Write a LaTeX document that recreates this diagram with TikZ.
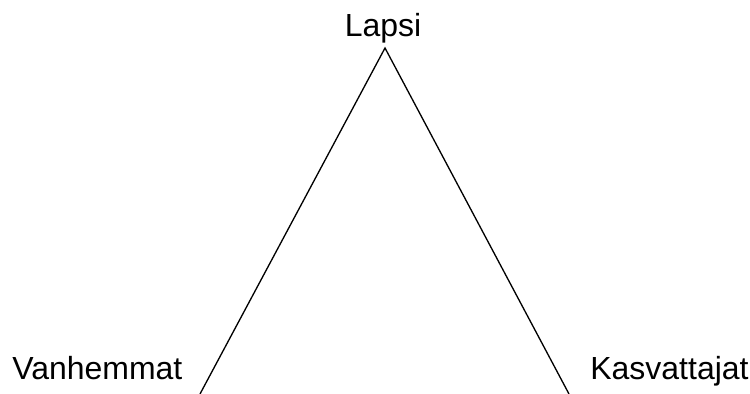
\documentclass[tikz,border=0pt]{standalone}
\usepackage{fontspec}
\setmainfont{Liberation Sans}
\usepackage{tikz}
\usetikzlibrary{positioning, calc}
\tikzstyle{rolelabel} = [inner sep=0pt, font=\fontsize{18.2pt}{21pt}\selectfont, text=black]
\tikzstyle{edge} = [line width=0.75pt, black]

\begin{document}
\begin{tikzpicture}[x=0.02cm, y=-0.02cm]
    \useasboundingbox (0,0) rectangle (750,394);
    % Labels
    \node[rolelabel, anchor=base] (child) at (383,37) {Lapsi};
    \node[rolelabel, anchor=base west] (parents) at (12,380) {Vanhemmat};
    \node[rolelabel, anchor=base west] (educators) at (590,380) {Kasvattajat};

    % Corners of the triangle
    \coordinate (apex) at (385,48);
    \coordinate (leftend) at (200,394);
    \coordinate (rightend) at (569,394);

    % Sides
    \draw[edge] (leftend) -- (apex) -- (rightend);
\end{tikzpicture}
\end{document}
